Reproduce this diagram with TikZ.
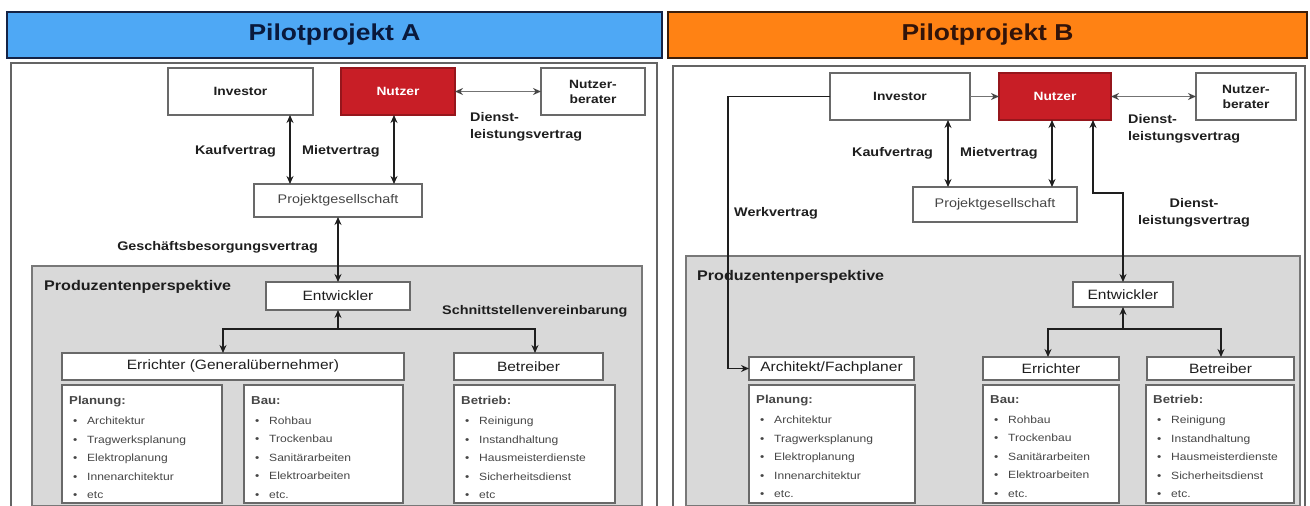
\documentclass[tikz,border=0pt]{standalone}
\usepackage{fontspec}
\setmainfont{Liberation Sans}[FakeStretch=1.15]
\usetikzlibrary{arrows.meta}

\definecolor{hdrblue}{RGB}{78,168,245}
\definecolor{hdrorange}{RGB}{255,130,20}
\definecolor{navyline}{RGB}{20,35,70}
\definecolor{navytext}{RGB}{10,25,60}
\definecolor{brownline}{RGB}{60,30,10}
\definecolor{browntext}{RGB}{50,20,10}
\definecolor{nutzred}{RGB}{200,30,38}
\definecolor{panelline}{RGB}{100,100,100}
\definecolor{boxline}{RGB}{105,105,105}
\definecolor{prodfill}{RGB}{217,217,217}
\definecolor{prodline}{RGB}{120,120,120}
\definecolor{inkdark}{RGB}{30,30,30}
\definecolor{inkgray}{RGB}{70,70,70}
\definecolor{linkgray}{RGB}{115,115,115}

% box given by its top-left and bottom-right corner (y grows downwards)
\newcommand{\placebox}[7]{%
  \node[#1, anchor=north west, inner sep=0pt, outer sep=0pt,
        minimum width={(#5-#3)*1pt}, minimum height={(#6-#4)*1pt}] (#2) at (#3,#4) {#7};}
% one bullet line of a task list
\newcommand{\itm}[1]{\hspace*{4pt}\makebox[14pt][l]{\textbullet}#1}
\newcommand{\listhead}[1]{{\bfseries\fontsize{11.5}{18.5}\selectfont #1}}

\begin{document}
\begin{tikzpicture}[x=1pt,y=-1pt,
  hdrA/.style={draw=navyline, fill=hdrblue, line width=1.6pt, text=navytext,
               font=\fontsize{23}{27}\selectfont\bfseries},
  hdrB/.style={draw=brownline, fill=hdrorange, line width=1.6pt, text=browntext,
               font=\fontsize{23}{27}\selectfont\bfseries},
  panel/.style={draw=panelline, fill=white, line width=1.3pt},
  prod/.style={draw=prodline, fill=prodfill, line width=1.3pt},
  actor/.style={draw=boxline, fill=white, line width=1.4pt, text=inkdark, align=center,
                font=\fontsize{12}{15}\selectfont\bfseries},
  usr/.style={draw=nutzred!75!black, fill=nutzred, line width=1.4pt, text=white,
              font=\fontsize{12}{15}\selectfont\bfseries},
  firm/.style={draw=boxline, fill=white, line width=1.4pt, text=inkgray,
               font=\fontsize{12.5}{15}\selectfont},
  role/.style={draw=boxline, fill=white, line width=1.4pt, text=inkdark,
               font=\fontsize{13.5}{16}\selectfont},
  task/.style={draw=boxline, fill=white, line width=1.4pt},
  lbl/.style={inner sep=0pt, text=inkdark, font=\fontsize{12.5}{17}\selectfont\bfseries},
  biglbl/.style={inner sep=0pt, text=inkdark, font=\fontsize{14}{17}\selectfont\bfseries},
  tasktxt/.style={anchor=north west, inner sep=0pt, align=left, text=inkgray,
                  font=\fontsize{10.5}{18.5}\selectfont},
  conn/.style={draw=inkdark, line width=1.5pt},
  connsoft/.style={draw=linkgray, line width=1.8pt},
  arrboth/.style={{Stealth[length=8pt,width=7pt]}-{Stealth[length=8pt,width=7pt]}},
  arrend/.style={-{Stealth[length=8pt,width=7pt]}},
  arrstart/.style={{Stealth[length=8pt,width=7pt]}-},
  softboth/.style={{Stealth[length=8pt,width=7pt,color=inkgray]}-{Stealth[length=8pt,width=7pt,color=inkgray]}},
  softend/.style={-{Stealth[length=8pt,width=7pt,color=inkgray]}},
]
\useasboundingbox (0,0) rectangle (1310,506);
\clip (0,0) rectangle (1310,506);
\fill[white] (0,0) rectangle (1310,506);

% ---------- headers and panels
\placebox{hdrA}{hA}{7}{12}{662}{58}{Pilotprojekt A}
\placebox{hdrB}{hB}{668}{12}{1307}{58}{Pilotprojekt B}
\placebox{panel}{pA}{11}{63}{657}{530}{}
\placebox{panel}{pB}{673}{66}{1305}{530}{}
\placebox{prod}{zA}{32}{266}{642}{506}{}
\placebox{prod}{zB}{686}{256}{1300}{506}{}

% ---------- Pilotprojekt A
\placebox{actor}{invA}{168}{68}{313}{115}{Investor}
\placebox{usr}{nutA}{341}{68}{455}{115}{Nutzer}
\placebox{actor}{nbA}{541}{68}{645}{115}{Nutzer-\\berater}
\placebox{firm}{pgA}{254}{184}{422}{217}{Projektgesellschaft}
\placebox{role}{entA}{266}{282}{410}{310}{Entwickler}
\placebox{role}{errA}{62}{353}{404}{380}{Errichter (Generalübernehmer)}
\placebox{role}{betA}{454}{353}{603}{380}{Betreiber}
\placebox{task}{planA}{62}{385}{222}{503}{}
\placebox{task}{bauA}{244}{385}{403}{503}{}
\placebox{task}{btrA}{454}{385}{615}{503}{}

\node[tasktxt] (tpA) at (69,396) {\listhead{Planung:}\\[1.5pt]\itm{Architektur}\\\itm{Tragwerksplanung}\\\itm{Elektroplanung}\\\itm{Innenarchitektur}\\\itm{etc}};
\node[tasktxt] (tbA) at (251,396) {\listhead{Bau:}\\[1.5pt]\itm{Rohbau}\\\itm{Trockenbau}\\\itm{Sanitärarbeiten}\\\itm{Elektroarbeiten}\\\itm{etc.}};
\node[tasktxt] (trA) at (461,396) {\listhead{Betrieb:}\\[1.5pt]\itm{Reinigung}\\\itm{Instandhaltung}\\\itm{Hausmeisterdienste}\\\itm{Sicherheitsdienst}\\\itm{etc}};

\coordinate (kA) at (290,0);
\coordinate (mA) at (394,0);
\coordinate (jA) at (338,329);
\coordinate (eA) at (223,0);
\coordinate (bA) at (535,0);
\draw[connsoft,softboth] (nutA.east) -- (nbA.west);
\draw[conn,arrboth] (invA.south -| kA) -- (pgA.north -| kA);
\draw[conn,arrboth] (nutA.south -| mA) -- (pgA.north -| mA);
\draw[conn,arrboth] (pgA.south) -- (entA.north);
\draw[conn,arrstart] (entA.south) -- (jA);
\draw[conn,arrend] (jA) -| (errA.north -| eA);
\draw[conn,arrend] (jA) -| (betA.north -| bA);

\node[lbl, anchor=north west, align=left] (dlA) at (470,112) {Dienst-\\leistungsvertrag};
\node[lbl, anchor=east] (kvA) at (276,151) {Kaufvertrag};
\node[lbl, anchor=west] (mvA) at (302,151) {Mietvertrag};
\node[lbl, anchor=east] (gbA) at (318,247) {Geschäftsbesorgungsvertrag};
\node[biglbl, anchor=west] (ppA) at (44,287) {Produzentenperspektive};
\node[lbl, anchor=west] (svA) at (442,311) {Schnittstellenvereinbarung};

% ---------- Pilotprojekt B
\placebox{actor}{invB}{830}{73}{970}{120}{Investor}
\placebox{usr}{nutB}{999}{73}{1111}{120}{Nutzer}
\placebox{actor}{nbB}{1196}{73}{1296}{120}{Nutzer-\\berater}
\placebox{firm}{pgB}{913}{187}{1077}{222}{Projektgesellschaft}
\placebox{role}{entB}{1073}{282}{1173}{307}{Entwickler}
\placebox{role}{archB}{749}{357}{914}{380}{Architekt/Fachplaner}
\placebox{role}{errB}{983}{357}{1119}{380}{Errichter}
\placebox{role}{betB}{1147}{357}{1294}{380}{Betreiber}
\placebox{task}{planB}{749}{385}{915}{503}{}
\placebox{task}{bauB}{983}{385}{1119}{503}{}
\placebox{task}{btrB}{1146}{385}{1294}{503}{}

\node[tasktxt] (tpB) at (756,395) {\listhead{Planung:}\\[1.5pt]\itm{Architektur}\\\itm{Tragwerksplanung}\\\itm{Elektroplanung}\\\itm{Innenarchitektur}\\\itm{etc.}};
\node[tasktxt] (tbB) at (990,395) {\listhead{Bau:}\\[1.5pt]\itm{Rohbau}\\\itm{Trockenbau}\\\itm{Sanitärarbeiten}\\\itm{Elektroarbeiten}\\\itm{etc.}};
\node[tasktxt] (trB) at (1153,395) {\listhead{Betrieb:}\\[1.5pt]\itm{Reinigung}\\\itm{Instandhaltung}\\\itm{Hausmeisterdienste}\\\itm{Sicherheitsdienst}\\\itm{etc.}};

\coordinate (wB) at (728,0);
\coordinate (kB) at (948,0);
\coordinate (mB) at (1052,0);
\coordinate (dB) at (1093,193);
\coordinate (jB) at (1123,329);
\coordinate (eB) at (1048,0);
\coordinate (bB) at (1221,0);
\draw[connsoft,softend] (invB.east) -- (nutB.west);
\draw[connsoft,softboth] (nutB.east) -- (nbB.west);
\draw[conn,arrend] (invB.west) -- (invB.west -| wB) |- (archB.west);
\draw[conn,arrboth] (invB.south -| kB) -- (pgB.north -| kB);
\draw[conn,arrboth] (nutB.south -| mB) -- (pgB.north -| mB);
\draw[conn,arrboth] (nutB.south -| dB) -- (dB) -| (entB.north);
\draw[conn,arrstart] (entB.south) -- (jB);
\draw[conn,arrend] (jB) -| (errB.north -| eB);
\draw[conn,arrend] (jB) -| (betB.north -| bB);

\node[lbl, anchor=north west, align=left] (dlB) at (1128,114) {Dienst-\\leistungsvertrag};
\node[lbl, anchor=east] (kvB) at (933,153) {Kaufvertrag};
\node[lbl, anchor=west] (mvB) at (960,153) {Mietvertrag};
\node[lbl, align=center] (dl2B) at (1194,213) {Dienst-\\leistungsvertrag};
\node[lbl, anchor=west] (wvB) at (734,213) {Werkvertrag};
\node[biglbl, anchor=west] (ppB) at (697,277) {Produzentenperspektive};
\end{tikzpicture}
\end{document}
